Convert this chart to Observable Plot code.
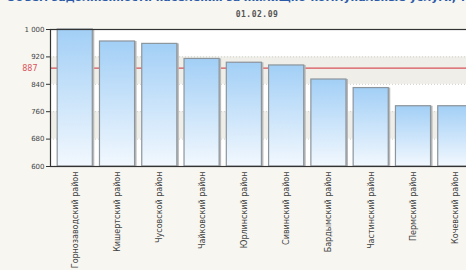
<!DOCTYPE html>
<html><head><meta charset="utf-8">
<script src="https://cdn.jsdelivr.net/npm/d3@7"></script>
<script src="https://cdn.jsdelivr.net/npm/@observablehq/plot@0.6"></script>
<style>
html,body{margin:0;padding:0;background:#f7f6f1;overflow:hidden;width:466px;height:270px}
#wrap{position:relative;width:466px;height:270px;overflow:hidden}
#title{position:absolute;top:-9px;left:0;width:520px;text-align:center;font:bold 11px "DejaVu Sans",sans-serif;color:#2b5ba8;white-space:nowrap}
#sub{position:absolute;top:10px;left:0;width:514px;text-align:center;font:bold 8px "DejaVu Sans Mono",monospace;color:#555;letter-spacing:0.5px}
#chart{position:absolute;top:0;left:0;width:482px}
#chart svg{max-width:none !important;height:270px !important}
</style></head>
<body><div id="wrap"><div id="title">Объем задолженности населения за жилищно-коммунальные услуги, тыс.руб.</div><div id="sub">01.02.09</div><div id="chart"></div></div>
<script>
const districts = ["Горнозаводский район","Кишертский район","Чусовской район","Чайковский район","Юрлинский район","Сивинский район","Бардымский район","Частинский район","Пермский район","Кочевский район"];
const values = [1000, 965, 958, 914, 903, 895, 854, 829, 776, 776];
const average = 887;
const yTicks = [600, 680, 760, 840, 920, 1000];
const bands = [[840, 920], [680, 760]];

const data = districts.map((d, i) => ({district: d, value: values[i]}));
const fmt = v => v >= 1000 ? d3.format(",")(v).replace(",", " ") : String(v);

const chart = Plot.plot({
  width: 482, height: 270,
  marginTop: 29, marginBottom: 104, marginLeft: 50, marginRight: 2,
  style: {background: "transparent", fontFamily: "DejaVu Sans, sans-serif", fontSize: "8px", color: "#444", maxWidth: "none"},
  x: {domain: districts, padding: 0.17, round: false, label: null},
  y: {domain: [600, 1000], label: null},
  marks: [
    () => {
      const ns = "http://www.w3.org/2000/svg";
      const defs = document.createElementNS(ns, "defs");
      defs.innerHTML = `<linearGradient id="barg" x1="0" y1="0" x2="0" y2="1"><stop offset="0" stop-color="#a2cff6"/><stop offset="1" stop-color="#f2f8fe"/></linearGradient>`;
      return defs;
    },
    Plot.frame({fill: "white"}),
    Plot.rect(bands, {y1: d => d[0], y2: d => d[1], fill: "#efeee8"}),
    Plot.ruleY(bands.flat(), {stroke: "#d0d0c8", strokeDasharray: "1,2"}),
    Plot.ruleY([average], {stroke: "#d9535a", strokeWidth: 1.2}),
    Plot.barY(data, {x: "district", y1: 600, y2: "value", fill: "#b8b8b8", dx: 2}),
    Plot.barY(data, {x: "district", y1: 600, y2: "value", fill: "url(#barg)", stroke: "#8c959c", strokeWidth: 1.2}),
    Plot.text([average], {y: d => d, frameAnchor: "left", dx: -13, textAnchor: "end", fill: "#d9535a", fontSize: 8, text: d => String(d)}),
    Plot.axisY({ticks: yTicks, tickFormat: fmt, tickSize: 4, tickPadding: 2, fontSize: 7, stroke: "#333"}),
    Plot.axisX({tickSize: 0, tickPadding: 5, tickRotate: -90, fontSize: 8, fill: "#444"}),
    Plot.frame({stroke: "#333", strokeWidth: 1.2})
  ]
});
document.getElementById("chart").appendChild(chart);
</script></body></html>
